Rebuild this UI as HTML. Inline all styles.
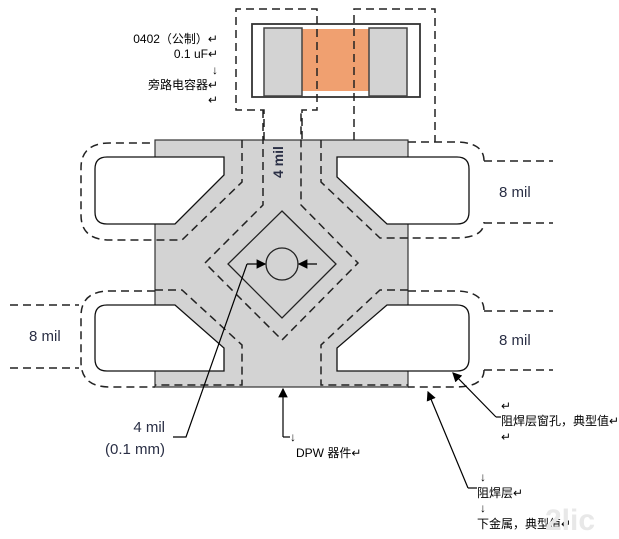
<!DOCTYPE html>
<html><head><meta charset="utf-8"><style>
html,body{margin:0;padding:0;background:#fff;}
svg{display:block;}
.t{font-family:"Liberation Sans","Noto Sans CJK SC",sans-serif;font-size:12px;fill:#000;}
.m{font-family:"Liberation Sans",sans-serif;font-size:15px;fill:#2a2f45;}
</style></head><body>
<svg width="619" height="539" viewBox="0 0 619 539" xmlns="http://www.w3.org/2000/svg">
<defs><marker id="ah" markerWidth="8" markerHeight="8" refX="7" refY="4" orient="auto"><path d="M0,0 L8,4 L0,8 Z" fill="#000"/></marker></defs>
<rect x="155" y="140" width="253" height="247" fill="#d3d3d3" stroke="#333" stroke-width="1.2"/>
<g fill="#fff" stroke="#111" stroke-width="1.3">
<path d="M224,157 H107 Q95,157 95,169 V212 Q95,224 107,224 H175 L224,175 Z"/>
<path d="M337,157 H457 Q469,157 469,169 V212 Q469,224 457,224 H387 L337,177 Z"/>
<path d="M175,305 H107 Q95,305 95,317 V359 Q95,371 107,371 H224 V348 Z"/>
<path d="M387,305 H457 Q469,305 469,317 V359 Q469,371 457,371 H337 V348 Z"/>
</g>
<rect x="252" y="24" width="168" height="73" fill="#fff" stroke="#333" stroke-width="1.8"/>
<rect x="302" y="29" width="67" height="62" fill="#f0a070"/>
<rect x="264" y="28" width="38" height="68" fill="#d3d3d3" stroke="#444" stroke-width="1.5"/>
<rect x="369" y="28" width="38" height="68" fill="#d3d3d3" stroke="#444" stroke-width="1.5"/>
<g fill="none" stroke="#222" stroke-width="1.5" stroke-dasharray="8,5">
<path d="M264,140 V110 H236 V9 H317 V110 H302 V140"/>
<path d="M354,140 V9 H435 V142"/>
<path d="M242,140 V182 L182,240 H110 Q81,240 81,215 V168 Q81,143 110,143 H155"/>
<path d="M263,110 V205 L205,263 L282,340 L358,263 L301,205 V110"/>
<path d="M321,140 V182 L380,238 H455 Q484,238 484,222"/>
<path d="M408,142 H455 Q484,142 484,161"/>
<path d="M484,161 H553 M484,223 H553"/>
<path d="M10,305 H79 M10,368 H79"/>
<path d="M484,311 H553 M484,370 H553"/>
<path d="M155,291 H110 Q81,291 81,316 V362 Q81,387 110,387 H155"/>
<path d="M155,290 H182 L242,345 V385 H155"/>
<path d="M408,290 H380 L321,345 V385 H408"/>
<path d="M408,291 H455 Q484,291 484,311 M484,370 Q484,387 455,387 H408"/>
</g>
<path d="M282,211 L336,264 L282,318 L228,264 Z" fill="none" stroke="#222" stroke-width="1.3"/>
<circle cx="282" cy="264" r="16" fill="none" stroke="#222" stroke-width="1.3"/>
<g stroke="#000" stroke-width="1.2" fill="none">
<line x1="247" y1="264" x2="265" y2="264" marker-end="url(#ah)"/>
<line x1="317" y1="264" x2="299" y2="264" marker-end="url(#ah)"/>
<polyline points="247,264 186,437 173,437"/>
<line x1="283" y1="437" x2="283" y2="389" marker-end="url(#ah)"/>
<line x1="283" y1="437" x2="290" y2="437"/>
<line x1="468" y1="488" x2="428" y2="392" marker-end="url(#ah)"/>
<line x1="468" y1="488" x2="477" y2="488"/>
<line x1="496" y1="417" x2="453" y2="373" marker-end="url(#ah)"/>
<line x1="496" y1="417" x2="501" y2="417"/>
</g>
<text class="t" x="218" y="43" text-anchor="end">0402（公制）↵</text>
<text class="t" x="218" y="58" text-anchor="end">0.1 uF↵</text>
<text class="t" x="218" y="74" text-anchor="end">↓</text>
<text class="t" x="218" y="89" text-anchor="end">旁路电容器↵</text>
<text class="t" x="218" y="104" text-anchor="end">↵</text>
<text class="m" x="283" y="178" transform="rotate(-90 283 178)" font-weight="bold" style="font-size:14px">4 mil</text>
<text class="m" x="499" y="197">8 mil</text>
<text class="m" x="29" y="341">8 mil</text>
<text class="m" x="499" y="345">8 mil</text>
<text class="m" x="165" y="432" text-anchor="end">4 mil</text>
<text class="m" x="165" y="454" text-anchor="end">(0.1 mm)</text>
<text class="t" x="290" y="441">↓</text>
<text class="t" x="296" y="457">DPW 器件↵</text>
<text class="t" x="501" y="410">↵</text>
<text class="t" x="501" y="425">阻焊层窗孔，典型值↵</text>
<text class="t" x="501" y="441">↵</text>
<text class="t" x="480" y="481">↓</text>
<text class="t" x="477" y="497">阻焊层↵</text>
<text class="t" x="480" y="512">↓</text>
<text class="t" x="477" y="528">下金属，典型值↵</text>
<text x="545" y="530" font-family="Liberation Sans,sans-serif" font-size="30" font-weight="bold" fill="#e8e8e8">2lic</text>
</svg>
</body></html>
